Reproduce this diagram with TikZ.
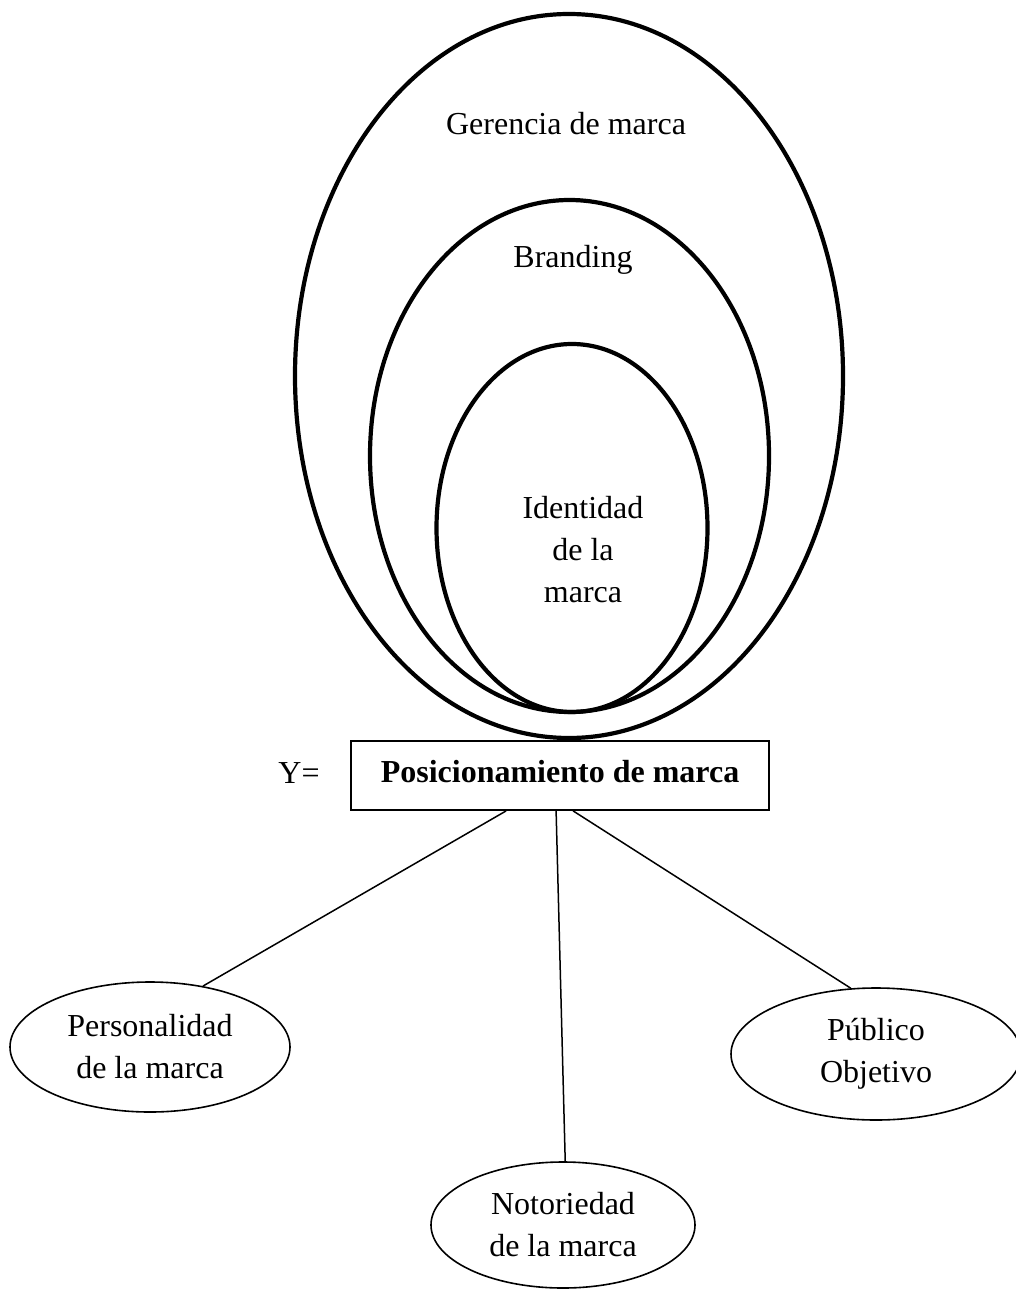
\documentclass[tikz,border=0pt]{standalone}
\usepackage{fontspec}
\setmainfont{Liberation Serif}
\usetikzlibrary{shapes.geometric,calc}
\begin{document}
\begin{tikzpicture}[x=1pt,y=-1pt,
  bigell/.style={draw, ellipse, line width=4.2pt, inner sep=0pt},
  smallell/.style={draw, ellipse, line width=1.6pt, inner sep=0pt, align=center,
    font=\fontsize{32}{42}\selectfont},
  lbl/.style={inner sep=0pt, align=center, font=\fontsize{32}{42}\selectfont},
  posbox/.style={draw, rectangle, line width=1.8pt, inner sep=0pt,
    font=\fontsize{32}{42}\selectfont\bfseries, text height=22pt, text depth=9pt},
  conn/.style={line width=1.5pt}]
\useasboundingbox (0,0) rectangle (1016,1292);

% nested ellipses
\node[bigell, minimum width=548pt, minimum height=724pt] (outer) at (569,376) {};
\node[bigell, minimum width=399pt, minimum height=512pt] (middle) at (569.5,456) {};
\node[bigell, minimum width=271pt, minimum height=368pt] (inner) at (572,528) {};

\node[lbl, anchor=base] (tger) at (566,135) {Gerencia de marca};
\node[lbl, anchor=base] (tbra) at (573,267) {Branding};
\node[lbl, anchor=center] (tide) at (583,550) {Identidad\\de la\\marca};

% central box
\node[posbox, minimum width=418pt, minimum height=69pt] (pos) at (560,775.5) {Posicionamiento de marca};
\node[lbl, anchor=base] (yeq) at (299,783) {Y=};

% leaf ellipses
\node[smallell, minimum width=280pt, minimum height=130pt] (pers) at (150,1047) {Personalidad\\de la marca};
\node[smallell, minimum width=264pt, minimum height=126pt] (noto) at (563,1225) {Notoriedad\\de la marca};
\node[smallell, minimum width=290pt, minimum height=132pt] (pub) at (876,1054) {P\'ublico\\Objetivo};

% connectors
\coordinate (b1) at ($(pos.south west)+(156,0)$);
\coordinate (b2) at ($(pos.south west)+(206,0)$);
\coordinate (b3) at ($(pos.south west)+(223,0)$);
\draw[conn] (b1) -- (pers.49);
\draw[conn] (b2) -- (noto.88);
\draw[conn] (b3) -- (pub.111);
\end{tikzpicture}
\end{document}
